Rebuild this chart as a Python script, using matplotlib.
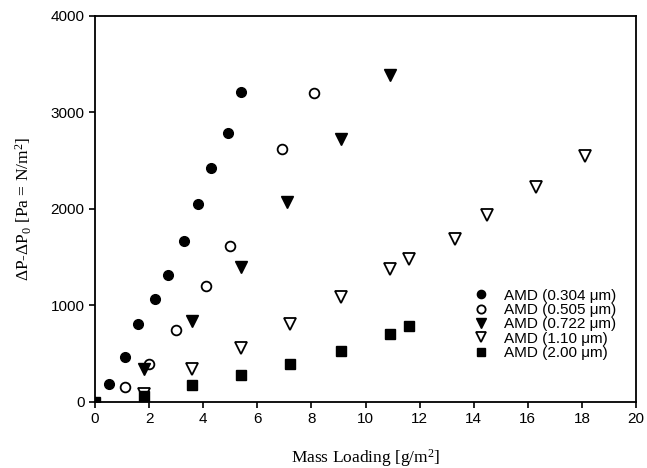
import matplotlib
matplotlib.use("Agg")
import matplotlib.pyplot as plt

# AMD series: mass loading [g/m2] vs pressure drop rise [Pa]
x_304 = [0, 0.5, 1.1, 1.6, 2.2, 2.7, 3.3, 3.8, 4.3, 4.9, 5.4]
y_304 = [0, 180, 460, 800, 1060, 1310, 1670, 2050, 2420, 2790, 3210]

x_505 = [1.1, 2.0, 3.0, 4.1, 5.0, 6.9, 8.1]
y_505 = [150, 390, 740, 1200, 1610, 2620, 3200]

x_722 = [1.8, 3.6, 5.4, 7.1, 9.1, 10.9]
y_722 = [340, 840, 1400, 2070, 2720, 3390]

x_110 = [1.8, 3.6, 5.4, 7.2, 9.1, 10.9, 11.6, 13.3, 14.5, 16.3, 18.1]
y_110 = [80, 340, 560, 800, 1080, 1380, 1480, 1690, 1940, 2230, 2550]

x_200 = [0, 1.8, 3.6, 5.4, 7.2, 9.1, 10.9, 11.6]
y_200 = [0, 60, 170, 280, 390, 520, 700, 780]

labels = ["AMD (0.304 \u03bcm)", "AMD (0.505 \u03bcm)", "AMD (0.722 \u03bcm)",
          "AMD (1.10 \u03bcm)", "AMD (2.00 \u03bcm)"]

sans = "Liberation Sans"
serif = "Liberation Serif"
plt.rcParams['mathtext.fontset'] = 'custom'
plt.rcParams['mathtext.rm'] = serif
plt.rcParams['mathtext.it'] = serif + ":italic"

fig = plt.figure(figsize=(6.47, 4.68), dpi=100)
ax = fig.add_axes([0.147, 0.142, 0.836, 0.824])

ax.plot(x_304, y_304, 'o', ms=7, mfc='black', mec='black', ls='none', label=labels[0])
ax.plot(x_505, y_505, 'o', ms=7, mfc='white', mec='black', mew=1.3, ls='none', label=labels[1])
ax.plot(x_722, y_722, 'v', ms=8, mfc='black', mec='black', ls='none', label=labels[2])
ax.plot(x_110, y_110, 'v', ms=8, mfc='white', mec='black', mew=1.3, ls='none', label=labels[3])
ax.plot(x_200, y_200, 's', ms=6.5, mfc='black', mec='black', ls='none', label=labels[4])

ax.set_xlim(0, 20)
ax.set_ylim(0, 4000)
ax.set_xticks(range(0, 21, 2))
ax.set_yticks([0, 1000, 2000, 3000, 4000])
ax.tick_params(direction='out', length=4, width=1.2, labelsize=11)
for lab in ax.get_xticklabels() + ax.get_yticklabels():
    lab.set_fontfamily(sans)
for s in ax.spines.values():
    s.set_linewidth(1.3)

ax.set_xlabel("Mass Loading [g/m$^\\mathrm{2}$]", fontfamily=serif, fontsize=12.5, labelpad=15)
ax.set_ylabel("\u0394P-\u0394P$_\\mathrm{0}$ [Pa = N/m$^\\mathrm{2}$]", fontfamily=serif,
              fontsize=12.5, labelpad=12)

leg = ax.legend(loc='center right', bbox_to_anchor=(0.963, 0.2, ), frameon=False,
                prop={'family': sans, 'size': 11}, handletextpad=0.5, handlelength=2.0,
                labelspacing=0.02, borderpad=0, borderaxespad=0, markerscale=0.85)

fig.savefig("out.png", dpi=100)
